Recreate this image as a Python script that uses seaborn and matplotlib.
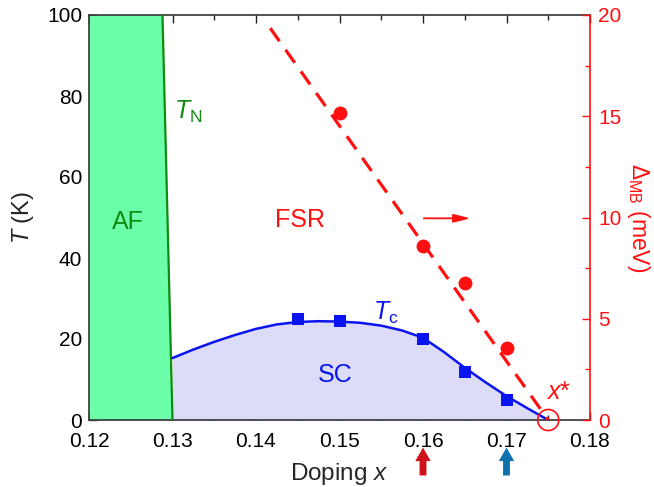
import matplotlib
matplotlib.use("Agg")
import matplotlib.pyplot as plt
import seaborn as sns
import pandas as pd

# ---------------- data ----------------
# AF boundary (T_N line)
tn_x = [0.1288, 0.1300]
tn_T = [100, 0]
# Tc curve (guide to the eye)
tc_curve_x = [0.130, 0.1325, 0.135, 0.1375, 0.140, 0.1425, 0.145, 0.1475, 0.150,
              0.1525, 0.155, 0.1575, 0.160, 0.1625, 0.165, 0.1675, 0.170, 0.1725, 0.175]
tc_curve_T = [15.3, 17.4, 19.3, 21.0, 22.5, 23.6, 24.2, 24.4, 24.3,
              24.0, 23.3, 22.1, 20.3, 16.8, 12.9, 9.3, 5.9, 2.9, 0.0]
# Tc data (squares)
tc_x = [0.145, 0.150, 0.160, 0.165, 0.170]
tc_T = [24.9, 24.5, 20.0, 11.9, 4.9]
# Delta_MB data (circles, right axis)
mb_x = [0.150, 0.160, 0.165, 0.170]
mb_E = [15.15, 8.6, 6.75, 3.55]
# dashed guide line for Delta_MB
mb_line_x = [0.1417, 0.175]
mb_line_E = [19.35, 0.0]
# critical doping x*
xstar = 0.175
# arrows below axis
arrow_x = [0.160, 0.170]
arrow_colors = ["#d0101a", "#1070b0"]
# tick labels
x_ticks = [0.12, 0.13, 0.14, 0.15, 0.16, 0.17, 0.18]
x_ticklabels = ["0.12", "0.13", "0.14", "0.15", "0.16", "0.17", "0.18"]
y_ticks = [0, 20, 40, 60, 80, 100]
y2_ticks = [0, 5, 10, 15, 20]

# ---------------- style ----------------
sns.set_style("ticks")
plt.rcParams['font.family'] = ['Liberation Sans', 'DejaVu Sans']
plt.rcParams['mathtext.fontset'] = 'custom'
plt.rcParams['mathtext.rm'] = 'Liberation Sans'
plt.rcParams['mathtext.it'] = 'Liberation Sans:italic'
plt.rcParams['mathtext.bf'] = 'Liberation Sans:bold'

fig = plt.figure(figsize=(6.54, 4.87), dpi=100)
ax = fig.add_axes([89/654, 1-420/487, (590-89)/654, (420-15)/487])
ax2 = ax.twinx()

green_fill = "#6cffaa"
green_line = "#118a11"
blue = "#0a14f0"
lav = "#dcdcf8"
red = "#ff1010"

# AF region
ax.fill_betweenx(tn_T, [0.12, 0.12], tn_x, color=green_fill, lw=0, zorder=1)
sns.lineplot(x=tn_x, y=tn_T, ax=ax, color=green_line, lw=1.6, zorder=3, sort=False)

# SC region
ax.fill_between(tc_curve_x, 0, tc_curve_T, color=lav, lw=0, zorder=1)
sns.lineplot(x=tc_curve_x, y=tc_curve_T, ax=ax, color=blue, lw=1.8, zorder=3)
sns.scatterplot(x=tc_x, y=tc_T, ax=ax, marker="s", s=75, color=blue,
                edgecolor=blue, linewidth=0, zorder=4)

ax.set_xlim(0.12, 0.18)
ax.set_ylim(0, 100)

# right axis
sns.lineplot(x=mb_line_x, y=mb_line_E, ax=ax2, color=red, lw=2.3,
             linestyle=(0, (5, 3.3)), zorder=3)
sns.scatterplot(x=mb_x, y=mb_E, ax=ax2, marker="o", s=100, color=red,
                edgecolor=red, linewidth=0, zorder=4)
ax2.scatter([xstar], [0], s=230, facecolors="none", edgecolors=red,
            linewidths=1.2, clip_on=False, zorder=5)
ax2.set_ylim(0, 20)
ax2.set_xlim(0.12, 0.18)

# ticks
ax.set_xticks(x_ticks)
ax.set_xticklabels(x_ticklabels)
ax.set_xticks([0.125, 0.135, 0.145, 0.155, 0.165, 0.175], minor=True)
ax.set_yticks(y_ticks)
ax.set_yticks([10, 30, 50, 70, 90], minor=True)
ax2.set_yticks(y2_ticks)
ax2.set_yticks([2.5, 7.5, 12.5, 17.5], minor=True)

ax.tick_params(axis='both', which='both', direction='in', top=True, right=False,
               labelsize=15, colors='#222222', labelcolor='black')
ax.tick_params(which='major', length=6, width=1.0)
ax.tick_params(which='minor', length=3.5, width=1.0)
ax.tick_params(axis='x', pad=8.5)
ax.tick_params(axis='y', pad=5)
ax2.tick_params(axis='y', which='both', direction='in', colors=red,
                labelcolor=red, labelsize=15, width=1.0, pad=6)
ax2.tick_params(axis='y', which='major', length=6)
ax2.tick_params(axis='y', which='minor', length=3.5)

for s in ['left', 'bottom', 'top']:
    ax.spines[s].set_color('#333333')
    ax.spines[s].set_linewidth(1.2)
ax.spines['right'].set_visible(False)
ax2.spines['right'].set_color(red)
ax2.spines['right'].set_linewidth(1.2)
for s in ['left', 'bottom', 'top']:
    ax2.spines[s].set_visible(False)

ax.set_xlabel("Doping $x$", fontsize=17.5, labelpad=7)
ax.set_ylabel("$T$ (K)", fontsize=17, labelpad=8)
ax2.set_ylabel(r"$\Delta_{\rm MB}$ (meV)", fontsize=16.5, color=red,
               rotation=270, labelpad=22)

# annotations
fs = 18
ax.text(0.1247, 49, "AF", color=green_line, fontsize=fs, ha='center', va='center', zorder=5)
ax.text(0.1302, 76, "$T_{\\rm N}$", color=green_line, fontsize=fs, ha='left', va='center', zorder=5)
ax.text(0.1453, 49.5, "FSR", color=red, fontsize=fs, ha='center', va='center', zorder=5)
ax.annotate("", xy=(0.1657, 49.8), xytext=(0.1601, 49.8),
            arrowprops=dict(arrowstyle='-|>,head_length=1.0,head_width=0.25',
                            color=red, lw=1.3, shrinkA=0, shrinkB=0), zorder=5)
ax.text(0.1495, 11, "SC", color=blue, fontsize=fs, ha='center', va='center', zorder=5)
ax.text(0.1540, 26.5, "$T_{\\rm c}$", color=blue, fontsize=fs, ha='left', va='center', zorder=5)
ax.text(0.1747, 7.0, "$x$*", color=red, fontsize=fs, ha='left', va='center', zorder=6)

for xa, ca in zip(arrow_x, arrow_colors):
    ax.annotate("", xy=(xa, -0.068), xytext=(xa, -0.137),
                xycoords=('data', 'axes fraction'), textcoords=('data', 'axes fraction'),
                annotation_clip=False,
                arrowprops=dict(arrowstyle='simple,head_width=0.85,head_length=0.75,tail_width=0.38',
                                color=ca, lw=0, shrinkA=0, shrinkB=0, mutation_scale=13))

fig.savefig("out.png", dpi=100)
